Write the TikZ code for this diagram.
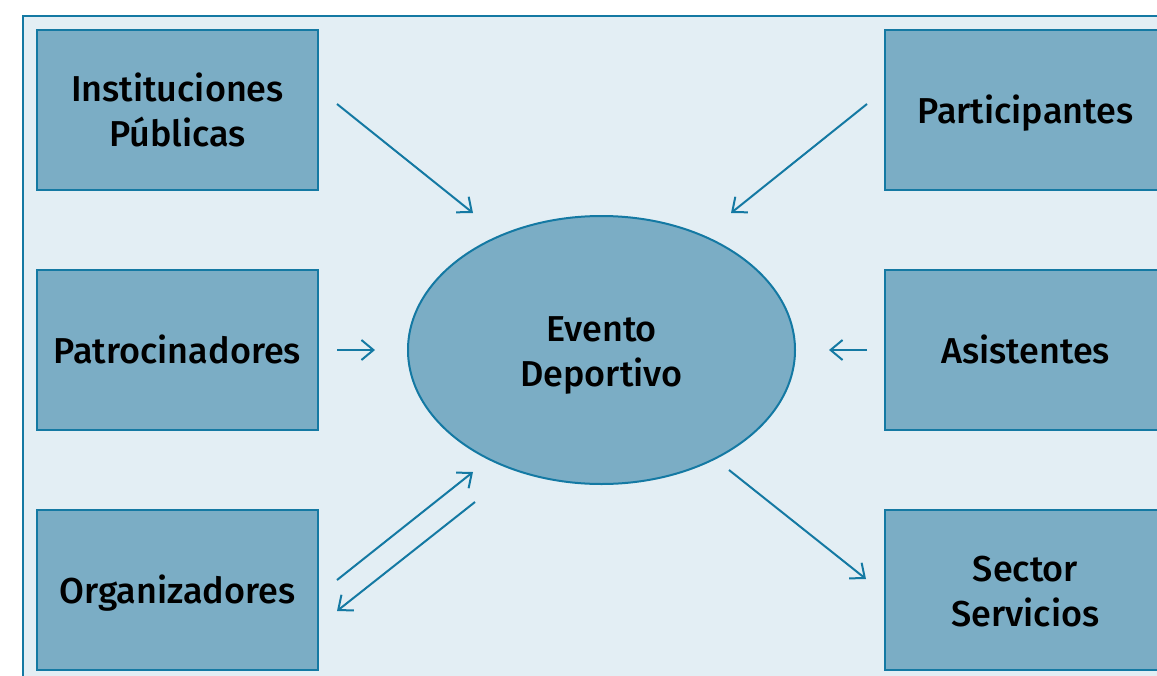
\documentclass[tikz,border=0pt]{standalone}
\usepackage{fontspec}
\setmainfont{Fira Sans}[UprightFont={* Medium}]
\usetikzlibrary{arrows.meta,shapes.geometric}
\definecolor{edge}{HTML}{1479A3}
\definecolor{boxfill}{HTML}{7BADC5}
\definecolor{bg}{HTML}{E3EEF4}
\tikzset{
  txt/.style={align=center, font=\fontsize{18}{22.5}\selectfont, text height=13.9pt, text depth=0pt},
  twoline/.style={text height=36.4pt},
  actor/.style={txt, draw=edge, fill=boxfill, line width=1pt, minimum width=140.5pt, minimum height=80pt, inner sep=0pt},
  hub/.style={txt, ellipse, draw=edge, fill=boxfill, line width=1pt, minimum width=193.5pt, minimum height=134pt, inner sep=0pt},
  flow/.style={draw=edge, line width=1pt, -{Straight Barb[length=6pt,width=10pt,line width=1pt]}}
}
\begin{document}
\begin{tikzpicture}[x=0.5pt,y=-0.5pt]
\useasboundingbox (0,0) rectangle (1157,675);
\clip (0,0) rectangle (1157,675);
\draw[edge, fill=bg, line width=1pt] (23,16) rectangle (1200,720);
\node[actor, twoline] (inst) at (177.5,110) {Instituciones\\Públicas};
\node[actor] (patr) at (177.5,350) {Patrocinadores};
\node[actor] (orga) at (177.5,590) {Organizadores};
\node[actor] (part) at (1025.5,110) {Participantes};
\node[actor] (asis) at (1025.5,350) {Asistentes};
\node[actor, twoline] (sect) at (1025.5,590) {Sector\\Servicios};
\node[hub, twoline] (evento) at (601.5,350) {Evento\\Deportivo};
\coordinate (a1s) at (337,104); \coordinate (a1e) at (473,213);
\coordinate (a2s) at (867,104); \coordinate (a2e) at (731,213);
\coordinate (a3s) at (337,350); \coordinate (a3e) at (375,350);
\coordinate (a4s) at (867,350); \coordinate (a4e) at (829,350);
\coordinate (a5s) at (337,580); \coordinate (a5e) at (473,472);
\coordinate (a6s) at (475,502); \coordinate (a6e) at (337,611);
\coordinate (a7s) at (729,470); \coordinate (a7e) at (866,579);
\draw[flow] (a1s) -- (a1e);
\draw[flow] (a2s) -- (a2e);
\draw[flow] (a3s) -- (a3e);
\draw[flow] (a4s) -- (a4e);
\draw[flow] (a5s) -- (a5e);
\draw[flow] (a6s) -- (a6e);
\draw[flow] (a7s) -- (a7e);
\end{tikzpicture}
\end{document}
